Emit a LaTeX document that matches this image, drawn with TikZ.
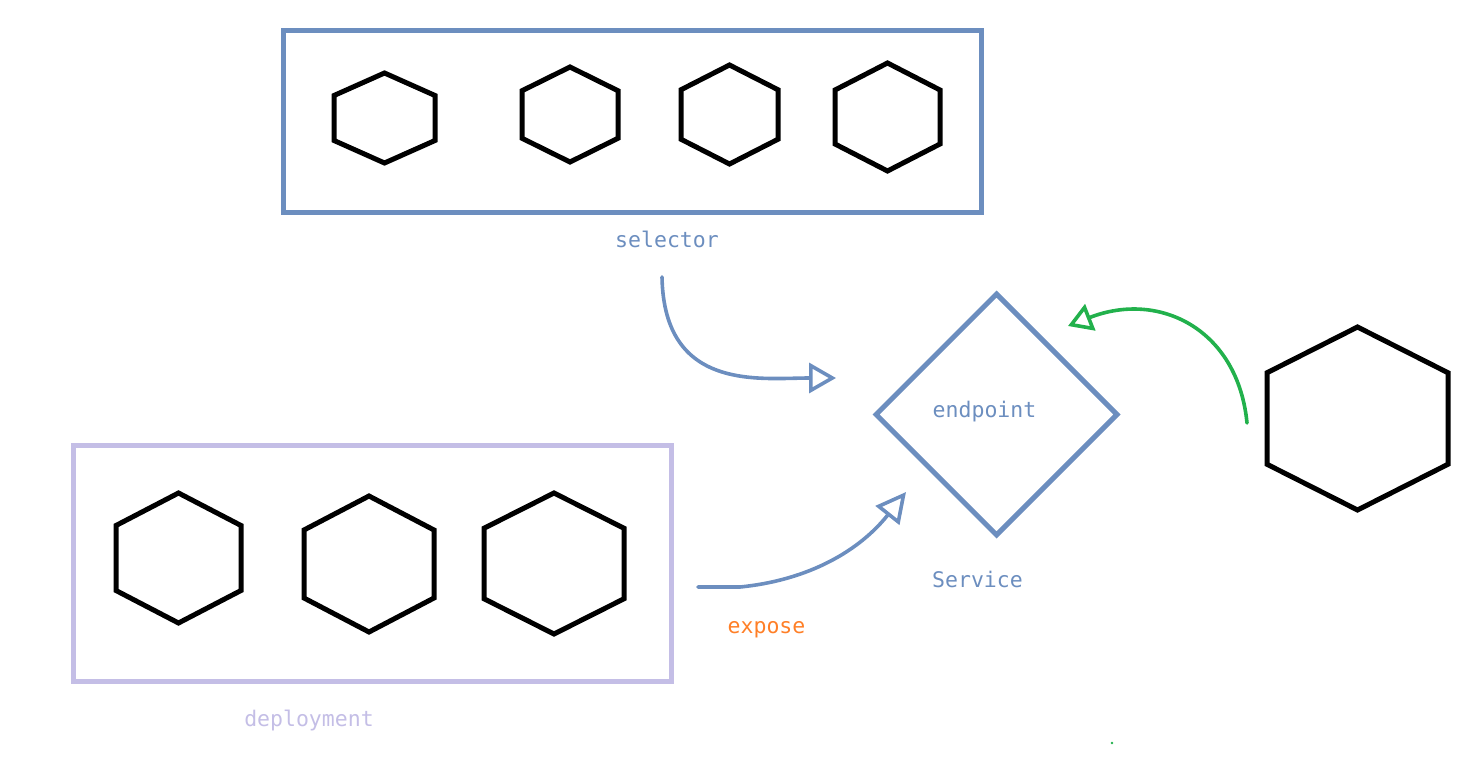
\documentclass[tikz,border=0pt]{standalone}
\usepackage{fontspec}
\setmonofont{DejaVu Sans Mono}
\usetikzlibrary{arrows.meta,shapes.geometric,positioning}
\definecolor{svcblue}{HTML}{6C8EBF}
\definecolor{deplilac}{HTML}{C4BEE6}
\definecolor{exporange}{HTML}{FF7F27}
\definecolor{ingreen}{HTML}{22B14C}
\tikzset{
	pod/.pic={\draw[line width=5pt, line join=miter] (0,-1) -- (1,-0.5) -- (1,0.5) -- (0,1) -- (-1,0.5) -- (-1,-0.5) -- cycle;},
	groupbox/.style={draw, line width=5pt, inner sep=0pt},
	tag/.style={font=\ttfamily\fontsize{21.5}{25}\selectfont, anchor=base, inner sep=0pt},
	sketch/.style={line width=3.6pt, line cap=round, line join=round},
}

\begin{document}
\begin{tikzpicture}[x=1pt, y=-1pt]
		\useasboundingbox (0,0) rectangle (1477,771);
		% selector group
		\node[groupbox, svcblue, minimum width=698pt, minimum height=182pt] (sel) at (632,121) {};
		\pic (s1) [xscale=50.5, yscale=45] at (384.5,118) {pod};
		\pic (s2) [xscale=48, yscale=47.5] at (570,114.5) {pod};
		\pic (s3) [xscale=48.5, yscale=49.5] at (729.5,114.5) {pod};
		\pic (s4) [xscale=52.5, yscale=54] at (887.5,117) {pod};
		\node[tag, text=svcblue] (sellabel) at (667,247) {selector};
		% deployment group
		\node[groupbox, deplilac, minimum width=598pt, minimum height=236pt] (dep) at (372,563) {};
		\pic (d1) [xscale=62.5, yscale=65] at (178.5,558) {pod};
		\pic (d2) [xscale=65, yscale=68] at (369,564) {pod};
		\pic (d3) [xscale=70, yscale=70.5] at (554,563.5) {pod};
		\node[tag, text=deplilac] (deplabel) at (309,726) {deployment};
		% service
		\node[draw=svcblue, line width=5pt, diamond, minimum width=243pt, minimum height=243pt, inner sep=0pt] (svc) at (996.5,414.5) {};
		\node[tag, text=svcblue] (endp) at (984.5,417) {endpoint};
		\node[tag, text=svcblue] (svclabel) at (977.5,587) {Service};
		\node[tag, text=exporange] (explabel) at (766.5,633) {expose};
		% client pod
		\pic (c1) [xscale=90.5, yscale=91.5] at (1357.5,418.5) {pod};
		% arrows
		\coordinate (selfrom) at (662,277);
		\coordinate (selto) at (836,378);
		\coordinate (expfrom) at (698,587);
		\coordinate (expto) at (906,492);
		\coordinate (infrom) at (1247,423);
		\coordinate (into) at (1068,326);
		\draw[sketch, svcblue, -{Triangle[open, length=27pt, width=30pt]}] (selfrom) .. controls (664,392) and (760,378) .. (selto);
		\draw[sketch, svcblue, -{Triangle[open, length=30pt, width=30pt]}] (expfrom) -- (740,587) .. controls (810,580) and (860,550) .. (expto);
		\draw[sketch, ingreen, -{Triangle[open, length=24pt, width=28pt]}] (infrom) .. controls (1238,330) and (1160,290) .. (into);
		\fill[ingreen] (1112,743) circle (1.3pt);
\end{tikzpicture}
\end{document}
